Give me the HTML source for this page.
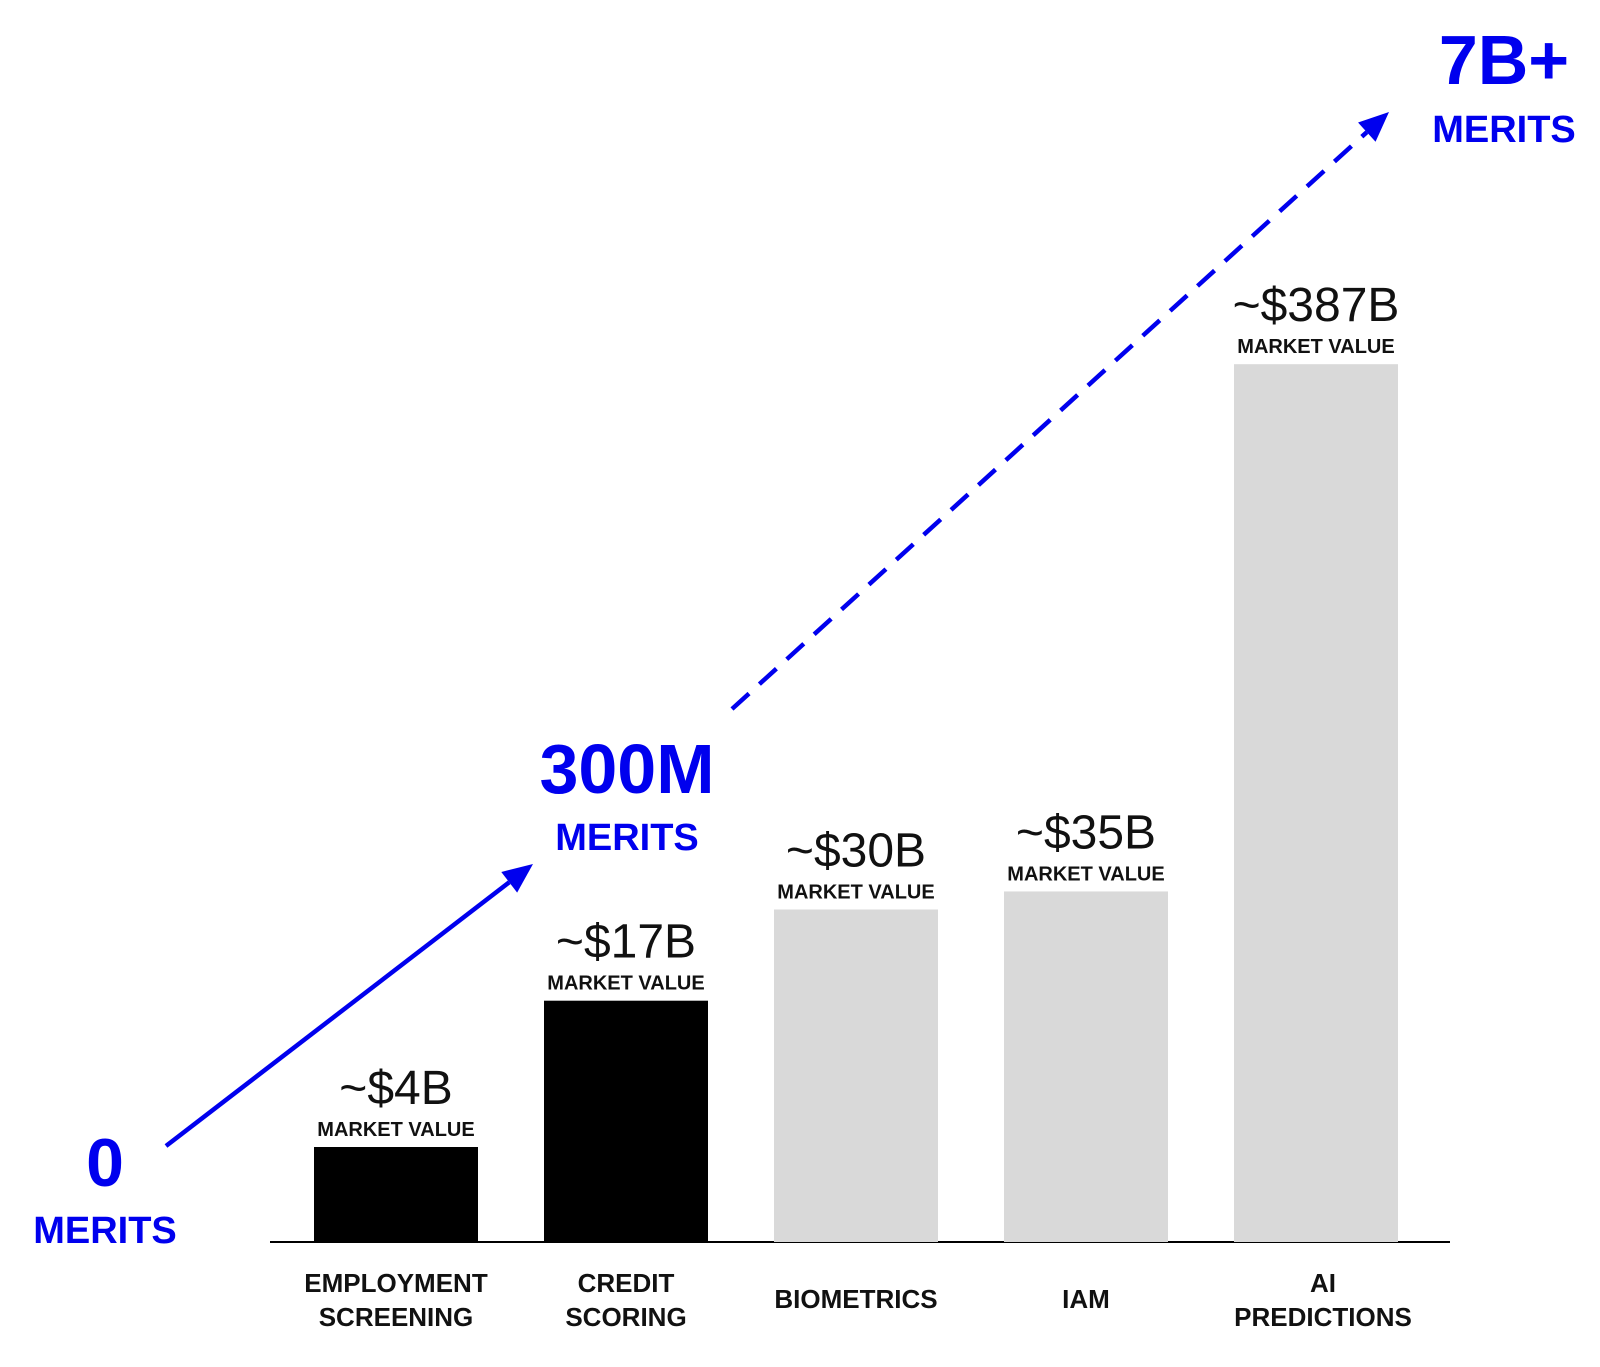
<!DOCTYPE html>
<html><head><meta charset="utf-8"><style>
html,body{margin:0;padding:0;background:#fff;}
svg{display:block;font-family:"Liberation Sans","DejaVu Sans",sans-serif;}
</style></head><body>
<svg id="chart" width="1600" height="1367" viewBox="0 0 1600 1367" xmlns="http://www.w3.org/2000/svg">
<line x1="270" y1="1242" x2="1450" y2="1242" stroke="#000" stroke-width="2"/>
<g id="bars"></g>
<g id="arrows"></g>
<g fill="#0000ee" font-weight="bold" text-anchor="middle">
<text x="105" y="1186" font-size="68">0</text>
<text x="105" y="1243" font-size="38">MERITS</text>
</g>
<g fill="#0000ee" font-weight="bold" text-anchor="middle">
<text x="627" y="793" font-size="70">300M</text>
<text x="627" y="850" font-size="38">MERITS</text>
</g>
<g fill="#0000ee" font-weight="bold" text-anchor="middle">
<text x="1504" y="84" font-size="70">7B+</text>
<text x="1504" y="142" font-size="38">MERITS</text>
</g>
</svg>
<script>
const categories = [["EMPLOYMENT","SCREENING"],["CREDIT","SCORING"],["BIOMETRICS"],["IAM"],["AI","PREDICTIONS"]];
const valueLabels = ["~$4B","~$17B","~$30B","~$35B","~$387B"];
const heightUnits = [1, 2.54, 3.5, 3.69, 9.24];
const highlighted = [true, true, false, false, false];

const NS = "http://www.w3.org/2000/svg";
const baseY = 1242, x0 = 314, step = 230, barW = 164, unitPx = 95;
function xScale(i){ return x0 + i*step; }
function yScale(u){ return baseY - u*unitPx; }
function mk(tag, attrs, parent){ const e=document.createElementNS(NS,tag); for(const k in attrs) e.setAttribute(k,attrs[k]); parent.appendChild(e); return e; }
const g = document.getElementById('bars');
categories.forEach((cat,i)=>{
  const x = xScale(i), y = yScale(heightUnits[i]), cx = x + barW/2;
  const r = mk('rect',{x:x,y:y,width:barW,height:baseY-y,fill:highlighted[i]?'#000':'#d9d9d9'},g);
  
  
  const v = mk('text',{x:cx,y:y-43,'text-anchor':'middle','font-size':'48',fill:'#111'},g);
  v.textContent = valueLabels[i];
  
  
  const m = mk('text',{x:cx,y:y-11,'text-anchor':'middle','font-size':'20','font-weight':'bold',fill:'#111'},g);
  m.textContent = 'MARKET VALUE';
  
  
  const t = mk('text',{'text-anchor':'middle','font-size':'26','font-weight':'bold',fill:'#111'},g);
  
  
  const startY = cat.length===2 ? 1292 : 1308;
  const lx = i===4 ? cx+7 : cx;
  cat.forEach((line,j)=>{ const s=mk('tspan',{x:lx,y:startY+j*34},t); s.textContent=line; });
});
const a = document.getElementById('arrows');
function arrow(x1,y1,x2,y2,dash,name){
  const ang=Math.atan2(y2-y1,x2-x1), L=30, W=13;
  const bx=x2-L*Math.cos(ang), by=y2-L*Math.sin(ang);
  const l=mk('line',{x1:x1,y1:y1,x2:bx,y2:by,stroke:'#0000ee','stroke-width':'4.5'},a);
  if(dash) l.setAttribute('stroke-dasharray','23 14');
  
  
  const px=-Math.sin(ang), py=Math.cos(ang);
  const p=mk('polygon',{points:`${x2},${y2} ${bx+px*W},${by+py*W} ${bx-px*W},${by-py*W}`,fill:'#0000ee'},a);
  
  
}
arrow(166,1146,533,864,false,'solid-arrow');
arrow(732,709,1389,112,true,'dashed-arrow');
</script>
</body></html>
